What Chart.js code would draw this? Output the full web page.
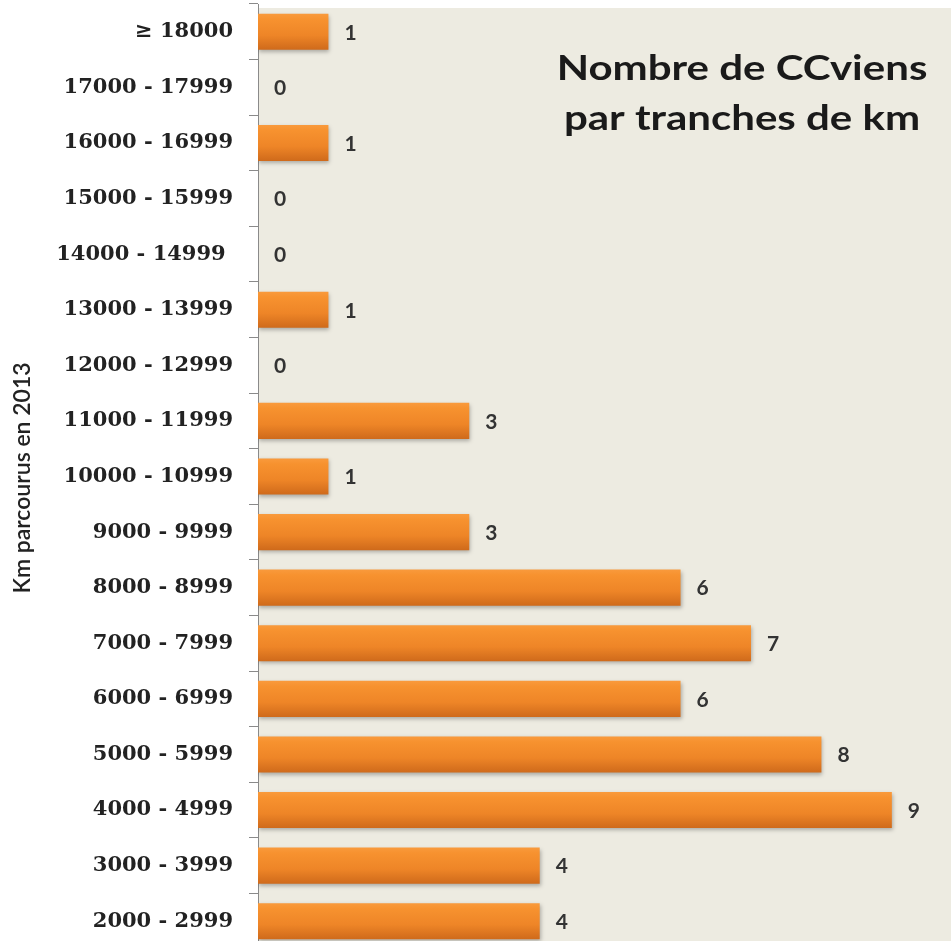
<!DOCTYPE html>
<html><head><meta charset="utf-8">
<script src="https://cdn.jsdelivr.net/npm/chart.js@4"></script>
<style>html,body{margin:0;padding:0;overflow:hidden;background:#fff}#wrap{width:951px;height:955px;position:relative}</style>
</head><body><div id="wrap"><canvas id="c" width="951" height="955"></canvas></div>
<script>
const categories = ["≥ 18000","17000 - 17999","16000 - 16999","15000 - 15999","14000 - 14999 ","13000 - 13999","12000 - 12999","11000 - 11999","10000 - 10999","9000 - 9999","8000 - 8999","7000 - 7999","6000 - 6999","5000 - 5999","4000 - 4999","3000 - 3999","2000 - 2999"];
const counts = [1,0,1,0,0,1,0,3,1,3,6,7,6,8,9,4,4];
const titleLines = ["Nombre de CCviens","par tranches de km"];
const axisTitle = "Km parcourus en 2013";

const bgPlugin = {
  id:'bg',
  beforeDraw(chart){
    const {ctx, chartArea:a} = chart;
    ctx.save();
    ctx.fillStyle = '#EDEBE1';
    ctx.fillRect(a.left, 8, a.right - a.left, a.bottom - 8);
    ctx.restore();
  },
  beforeDatasetsDraw(chart){
    const ctx = chart.ctx;
    ctx.save();
    ctx.shadowColor = 'rgba(0,0,0,0.28)';
    ctx.shadowBlur = 4;
    ctx.shadowOffsetX = 1;
    ctx.shadowOffsetY = 2;
  },
  afterDatasetsDraw(chart){
    const ctx = chart.ctx;
    ctx.restore();
    const meta = chart.getDatasetMeta(0);
    ctx.save();
    ctx.fillStyle = '#333';
    ctx.font = 'bold 21px Lato';
    ctx.textBaseline = 'middle';
    ctx.textAlign = 'left';
    meta.data.forEach((bar, i) => {
      ctx.fillText(String(counts[i]), bar.x + 16, bar.y + 1);
    });
    // title
    ctx.fillStyle = '#1a1a1a';
    ctx.font = 'bold 35px Lato';
    ctx.textAlign = 'center';
    ctx.textBaseline = 'alphabetic';
    ctx.save();
    ctx.translate(742, 0);
    ctx.scale(1.2, 1);
    ctx.fillText(titleLines[0], 0, 80);
    ctx.fillText(titleLines[1], 0, 130);
    ctx.restore();
    // axis title
    ctx.translate(23, 478);
    ctx.rotate(-Math.PI/2);
    ctx.font = '600 23px Lato';
    ctx.fillStyle = '#222';
    ctx.textAlign = 'center';
    ctx.textBaseline = 'middle';
    ctx.fillText(axisTitle, 0, 0);
    ctx.restore();
  }
};

function barGradient(context){
  const chart = context.chart;
  const y = chart.scales && chart.scales.y;
  if (!chart.chartArea || !y) return '#F08A28';
  const cy = y.getPixelForValue(context.dataIndex);
  const h = 18;
  const g = chart.ctx.createLinearGradient(0, cy - h, 0, cy + h);
  g.addColorStop(0, '#F99A3C');
  g.addColorStop(0.15, '#F7922F');
  g.addColorStop(0.6, '#EE8527');
  g.addColorStop(1, '#CF6A1B');
  return g;
}

new Chart(document.getElementById('c'), {
  type:'bar',
  data:{
    labels: categories,
    datasets:[{data: counts, backgroundColor: barGradient, borderWidth:0, barPercentage:0.65, categoryPercentage:1}]
  },
  plugins:[bgPlugin],
  options:{
    indexAxis:'y',
    responsive:false,
    animation:false,
    layout:{padding:{top:4, bottom:6, right:0, left:0}},
    plugins:{legend:{display:false}, tooltip:{enabled:false}},
    scales:{
      x:{display:false, min:0, max:9.84},
      y:{
        afterFit(scale){ scale.width = 258; scale.paddingTop = 0; scale.paddingBottom = 0; },
        border:{display:true, color:'#8a8a8a', width:1},
        grid:{drawOnChartArea:false, drawTicks:true, tickLength:9, color:'#8a8a8a', offset:true},
        ticks:{color:'#222', padding:16, font:{family:'DejaVu Serif', weight:'bold', size:21}}
      }
    }
  }
});
</script></body></html>
